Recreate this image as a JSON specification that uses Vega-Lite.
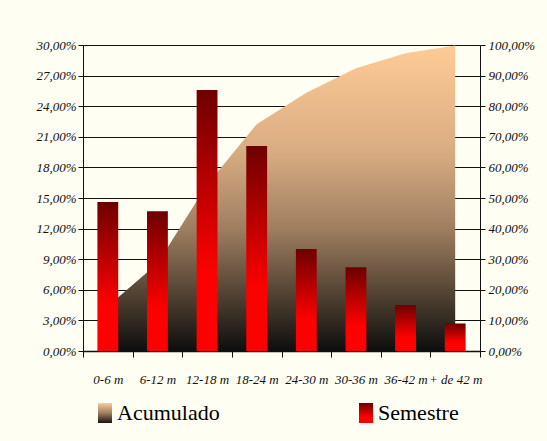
{
  "$schema": "https://vega.github.io/schema/vega-lite/v6.json",
  "autosize": {"type": "none"},
  "width": 397,
  "height": 306,
  "padding": {"left": 83, "top": 45, "right": 67, "bottom": 90},
  "background": "#FEFEF2",
  "config": {
    "view": {"stroke": null},
    "axis": {
      "labelFont": "Liberation Serif",
      "labelFontStyle": "italic",
      "labelFontSize": 13,
      "labelColor": "#111111",
      "domainColor": "#111111",
      "tickColor": "#111111",
      "gridColor": "#111111",
      "gridOpacity": 1,
      "tickOpacity": 1,
      "domainOpacity": 1
    },
    "legend": {
      "labelFont": "Liberation Serif",
      "labelFontSize": 22,
      "labelColor": "#000000"
    }
  },
  "data": {
    "values": [
      {"cat": "0-6 m", "semestre": 0.146, "acumulado": 0.146},
      {"cat": "6-12 m", "semestre": 0.137, "acumulado": 0.286},
      {"cat": "12-18 m", "semestre": 0.256, "acumulado": 0.543},
      {"cat": "18-24 m", "semestre": 0.201, "acumulado": 0.741},
      {"cat": "24-30 m", "semestre": 0.100, "acumulado": 0.844},
      {"cat": "30-36 m", "semestre": 0.082, "acumulado": 0.924},
      {"cat": "36-42 m", "semestre": 0.045, "acumulado": 0.973},
      {"cat": "+ de 42 m", "semestre": 0.027, "acumulado": 0.998}
    ]
  },
  "encoding": {
    "x": {
      "field": "cat",
      "type": "nominal",
      "sort": null,
      "scale": {"paddingInner": 0, "paddingOuter": 0},
      "axis": {
        "title": null,
        "labelAngle": 0,
        "tickBand": "extent",
        "tickSize": 6,
        "labelPadding": 16,
        "domainWidth": 1.5
      }
    }
  },
  "layer": [
    {
      "mark": {
        "type": "area",
        "strokeWidth": 0,
        "fill": {"gradient": "linear", "x1": 0, "y1": 0, "x2": 0, "y2": 1,
          "stops": [
            {"offset": 0, "color": "#FECB96"},
            {"offset": 0.35, "color": "#D8AC82"},
            {"offset": 0.6, "color": "#9E7E60"},
            {"offset": 0.85, "color": "#45382B"},
            {"offset": 1, "color": "#0E0E0E"}
          ]}
      },
      "encoding": {
        "y": {
          "field": "acumulado",
          "type": "quantitative",
          "scale": {"domain": [0, 1], "nice": false},
          "axis": {
            "orient": "right",
            "title": null,
            "values": [0, 0.1, 0.2, 0.3, 0.4, 0.5, 0.6, 0.7, 0.8, 0.9, 1.0],
            "labelExpr": "replace(format(datum.value, '.2%'), '.', ',')",
            "grid": false,
            "tickSize": 5,
            "labelPadding": 3
          }
        },
        "stroke": {
          "datum": "Acumulado",
          "type": "nominal",
          "scale": {"domain": ["Acumulado", "Semestre"], "range": ["#C8A07A", "#C00000"]},
          "legend": {
            "title": null,
            "orient": "none",
            "legendX": 11,
            "legendY": 357,
            "direction": "horizontal",
            "symbolType": "M-0.7,-1H0.7V1H-0.7Z",
            "symbolSize": 400,
            "symbolStrokeWidth": 0,
            "symbolOpacity": 1,
            "labelFont": "Liberation Serif",
            "labelFontSize": 22,
            "labelColor": "#000000",
            "labelOffset": 1,
            "labelLimit": 0,
            "columnPadding": 135,
            "encoding": {
              "symbols": {
                "size": {"value": 400},
                "fill": {
                  "condition": {
                    "test": "datum.value === 'Acumulado'",
                    "value": {"gradient": "linear", "x1": 0, "y1": 0, "x2": 0, "y2": 1,
                      "stops": [
                        {"offset": 0, "color": "#FECB96"},
                        {"offset": 0.5, "color": "#9E7E60"},
                        {"offset": 1, "color": "#1A1512"}
                      ]}
                  },
                  "value": {"gradient": "linear", "x1": 0, "y1": 0, "x2": 0, "y2": 1,
                    "stops": [
                      {"offset": 0, "color": "#6E0000"},
                      {"offset": 0.7, "color": "#FF0000"},
                      {"offset": 1, "color": "#FF0000"}
                    ]}
                },
                "strokeWidth": {"value": 0}
              },
              "labels": {
                "font": {"value": "Liberation Serif"},
                "fontSize": {"value": 22}
              }
            }
          }
        }
      }
    },
    {
      "mark": {
        "type": "bar",
        "width": {"band": 0.42},
        "strokeWidth": 0,
        "fill": {"gradient": "linear", "x1": 0, "y1": 0, "x2": 0, "y2": 1,
          "stops": [
            {"offset": 0, "color": "#6E0000"},
            {"offset": 0.7, "color": "#FF0000"},
            {"offset": 1, "color": "#FF0000"}
          ]}
      },
      "encoding": {
        "y": {
          "field": "semestre",
          "type": "quantitative",
          "scale": {"domain": [0, 0.3], "nice": false},
          "axis": {
            "orient": "left",
            "title": null,
            "values": [0, 0.03, 0.06, 0.09, 0.12, 0.15, 0.18, 0.21, 0.24, 0.27, 0.3],
            "labelExpr": "replace(format(datum.value, '.2%'), '.', ',')",
            "grid": true,
            "tickSize": 5,
            "labelPadding": 2
          }
        },
        "stroke": {"datum": "Semestre", "type": "nominal"}
      }
    }
  ],
  "resolve": {"scale": {"y": "independent"}}
}
